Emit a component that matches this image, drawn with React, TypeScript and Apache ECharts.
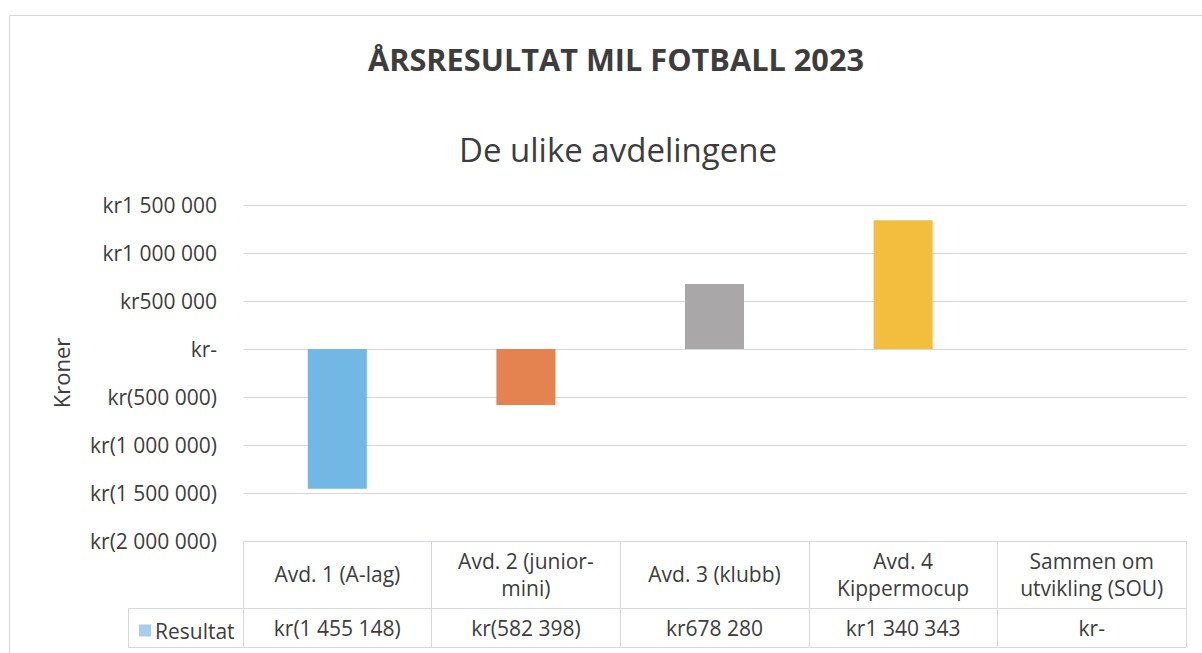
import React, { useEffect, useRef } from "react";
import * as echarts from "echarts";

const categories = [
  "Avd. 1 (A-lag)",
  "Avd. 2 (junior-\nmini)",
  "Avd. 3 (klubb)",
  "Avd. 4\nKippermocup",
  "Sammen om\nutvikling (SOU)",
];
const values = [-1455148, -582398, 678280, 1340343, 0];
const barColors = ["#72b8e4", "#e4834f", "#a9a7a7", "#f3bd3e"];
const seriesName = "Resultat";
const yMin = -2000000;
const yMax = 1500000;
const yStep = 500000;

const FONT = "Open Sans";
const TEXT = "#3d3d3d";
const LINE = "#d6d9de";
const FS = 21;

function groupDigits(n: number): string {
  return String(Math.round(n)).replace(/\B(?=(\d{3})+(?!\d))/g, " ");
}
function kr(v: number): string {
  if (v === 0) return "kr-";
  if (v < 0) return "kr(" + groupDigits(-v) + ")";
  return "kr" + groupDigits(v);
}

export default function App() {
  const ref = useRef<HTMLDivElement>(null);
  useEffect(() => {
    if (!ref.current) return;
    const chart = echarts.init(ref.current, undefined, { renderer: "svg" });
    chart.setOption({
      animation: false,
      backgroundColor: "#ffffff",
      textStyle: { fontFamily: FONT },
      title: [
        {
          text: "ÅRSRESULTAT MIL FOTBALL 2023",
          left: 611,
          textAlign: "center",
          top: 38,
          textStyle: { fontFamily: FONT, fontSize: 30.7, fontWeight: "bold", color: TEXT },
        },
        {
          text: "De ulike avdelingene",
          left: 613,
          textAlign: "center",
          top: 128,
          textStyle: { fontFamily: FONT, fontSize: 33, fontWeight: 500, color: TEXT },
        },
      ],
      legend: {
        data: [seriesName],
        left: 134,
        top: 615,
        icon: "rect",
        itemWidth: 12,
        itemHeight: 12,
        itemGap: 4,
        textStyle: { fontFamily: FONT, fontSize: FS, color: TEXT, padding: [0, 0, 0, -1] },
      },
      grid: { left: 243, right: 16, top: 205, bottom: 112, containLabel: false },
      xAxis: [
        {
          type: "category",
          data: categories,
          position: "bottom",
          axisLine: { show: true, onZero: false, lineStyle: { color: LINE, width: 1 } },
          axisTick: {
            show: true,
            alignWithLabel: false,
            interval: 0,
            length: 106,
            lineStyle: { color: LINE, width: 1 },
          },
          axisLabel: {
            interval: 0,
            margin: 33,
            verticalAlign: "middle",
            fontFamily: FONT,
            fontSize: FS,
            lineHeight: 27,
            color: TEXT,
          },
        },
        {
          type: "category",
          data: categories,
          position: "bottom",
          axisLine: { show: false, onZero: false },
          axisTick: { show: false },
          axisLabel: {
            interval: 0,
            margin: 87,
            verticalAlign: "middle",
            fontFamily: FONT,
            fontSize: FS,
            color: TEXT,
            formatter: (_: string, i: number) => kr(values[i]),
          },
        },
      ],
      yAxis: {
        type: "value",
        min: yMin,
        max: yMax,
        interval: yStep,
        name: "Kroner",
        nameLocation: "middle",
        nameGap: 171,
        nameTextStyle: { fontFamily: FONT, fontSize: 22, color: TEXT },
        axisLine: { show: false },
        axisTick: { show: false },
        splitLine: { lineStyle: { color: LINE, width: 1 } },
        axisLabel: {
          margin: 26,
          fontFamily: FONT,
          fontSize: FS,
          color: TEXT,
          formatter: (v: number) => kr(v),
        },
      },
      series: [
        {
          name: seriesName,
          type: "bar",
          xAxisIndex: 0,
          barWidth: 59,
          itemStyle: { color: "#a9cdec" },
          data: values.map((v, i) => ({
            value: v,
            itemStyle: { color: barColors[i % barColors.length] },
          })),
        },
      ],
      graphic: [
        {
          type: "rect",
          shape: { x: 9.5, y: 15.5, width: 1300, height: 700 },
          style: { fill: "none", stroke: "#d4d6da", lineWidth: 1 },
          silent: true,
        },
        {
          type: "line",
          shape: { x1: 128, y1: 608.5, x2: 1186, y2: 608.5 },
          style: { stroke: LINE, lineWidth: 1 },
          silent: true,
        },
        {
          type: "line",
          shape: { x1: 128, y1: 647.5, x2: 1186, y2: 647.5 },
          style: { stroke: LINE, lineWidth: 1 },
          silent: true,
        },
        {
          type: "line",
          shape: { x1: 128.5, y1: 608, x2: 128.5, y2: 648 },
          style: { stroke: LINE, lineWidth: 1 },
          silent: true,
        },
      ],
    });
    return () => chart.dispose();
  }, []);
  return (
    <div
      ref={ref}
      style={{ position: "fixed", left: 0, top: 0, width: 1202, height: 653, background: "#fff" }}
    />
  );
}
